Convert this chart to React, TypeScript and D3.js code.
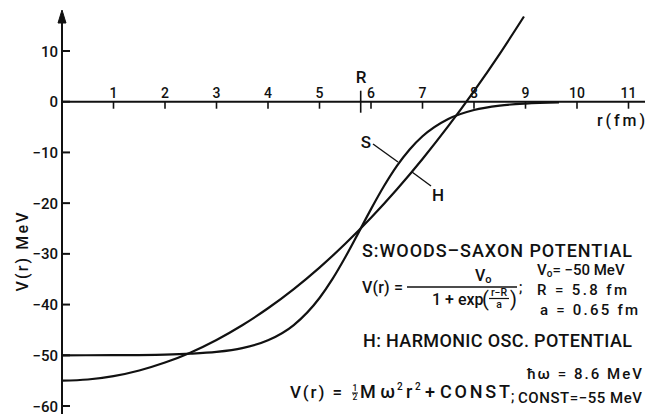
import * as d3 from "d3";

// axis ticks
const xTicks = [1, 2, 3, 4, 5, 6, 7, 8, 9, 10, 11];
const yTicks = [10, 0, -10, -20, -30, -40, -50, -60];
const yTickLabels = ["10", "0", "−10", "−20", "−30", "−40", "−50", "−60"];
const rMark = 5.8;

// S: Woods-Saxon curve (r in fm, V in MeV)
const wsR = [0, 1, 2, 2.5, 3, 3.5, 4, 4.5, 5, 5.25, 5.5, 5.75, 6, 6.25, 6.5, 6.75, 7, 7.5, 8, 8.5, 9, 9.65];
const wsV = [-50, -49.97, -49.86, -49.69, -49.34, -48.59, -47.05, -44.04, -38.7, -34.99, -30.67, -25.96, -21.18, -16.68, -12.7, -9.41, -6.82, -3.41, -1.64, -0.77, -0.36, -0.14];

// H: harmonic oscillator curve
const hoR = [0, 0.5, 1, 1.5, 2, 2.5, 3, 3.5, 4, 4.5, 5, 5.5, 6, 6.5, 7, 7.5, 8, 8.5, 8.97];
const hoV = [-55, -54.78, -54.11, -52.99, -51.43, -49.43, -46.97, -44.07, -40.73, -36.94, -32.7, -28.02, -22.89, -17.31, -11.29, -4.83, 2.09, 9.45, 16.8];

const W = 648, H = 414;
const FONT = "Roboto, 'DejaVu Sans', sans-serif";

export default function App() {
  const x = d3.scaleLinear().domain([0, 11]).range([62, 628.5]);
  const y = d3.scaleLinear().domain([-60, 10]).range([406, 51]);

  const line = d3.line<[number, number]>()
    .x(d => x(d[0]))
    .y(d => y(d[1]))
    .curve(d3.curveMonotoneX);

  const ws = wsR.map((r, i) => [r, wsV[i]] as [number, number]);
  const ho = hoR.map((r, i) => [r, hoV[i]] as [number, number]);

  const x0 = x(0), y0 = y(0);
  const txt = { fontFamily: FONT, fontWeight: 500, fill: "#111" } as const;

  return (
    <svg width={W} height={H} style={{ position: "absolute", left: 0, top: 0, background: "#fff" }}>
      <g stroke="#111" strokeWidth={2} fill="none">
        {/* y axis with arrow */}
        <line x1={x0} x2={x0} y1={20} y2={H} />
        <path d={`M${x0},10 L${x0 - 4},23 L${x0 + 4},23 Z`} fill="#111" strokeWidth={1} />
        {yTicks.map(t => (
          <line key={t} x1={x0} x2={x0 + 8} y1={y(t)} y2={y(t)} />
        ))}
        {/* x axis */}
        <line x1={x0} x2={645} y1={y0} y2={y0} />
        {xTicks.map(t => (
          <line key={t} x1={x(t)} x2={x(t)} y1={y0} y2={y0 + 7} strokeWidth={1.6} />
        ))}
        <line x1={x(rMark)} x2={x(rMark)} y1={y0 - 11} y2={y0 + 11} strokeWidth={1.6} />
        {/* curves */}
        <path d={line(ws) ?? ""} strokeWidth={2.2} />
        <path d={line(ho) ?? ""} strokeWidth={2.2} />
        {/* leader lines */}
        <line x1={373} y1={144} x2={398} y2={162} strokeWidth={1.4} />
        <line x1={412} y1={172} x2={431} y2={186} strokeWidth={1.4} />
      </g>

      {/* tick labels */}
      <g {...txt} fontSize={15}>
        {yTicks.map((t, i) => (
          <text key={t} x={58} y={y(t) + 5.5} textAnchor="end">{yTickLabels[i]}</text>
        ))}
        {xTicks.map(t => (
          <text key={t} x={x(t)} y={y0 - 4} textAnchor="middle" fontSize={14}>{t}</text>
        ))}
        <text x={361} y={83} textAnchor="middle" fontSize={17}>R</text>
        <text x={597} y={126} fontSize={16} textLength={48} lengthAdjust="spacing">r(fm)</text>
        <text x={366} y={148} textAnchor="middle" fontSize={17}>S</text>
        <text x={438} y={201} textAnchor="middle" fontSize={17}>H</text>
        <text transform="translate(28,252) rotate(-90)" textAnchor="middle" fontSize={16}
          textLength={79} lengthAdjust="spacing">V(r) MeV</text>
      </g>

      {/* legend / formulas */}
      <g {...txt}>
        <text x={362} y={257} fontSize={18} textLength={270} lengthAdjust="spacing">S:WOODS–SAXON POTENTIAL</text>

        <text x={362} y={293} fontSize={16} textLength={41} lengthAdjust="spacing">V(r) =</text>
        <text x={475} y={281} fontSize={16}>V<tspan fontSize={11} dy={2}>o</tspan></text>
        <line x1={407} x2={517} y1={287} y2={287} stroke="#111" strokeWidth={1.4} />
        <text x={432} y={305} fontSize={16}>1 + exp</text>
        <text x={482} y={306} fontSize={20} fontWeight={400}>(</text>
        <text x={499} y={296} fontSize={10.5} textAnchor="middle">r−R</text>
        <line x1={489} x2={509} y1={298.5} y2={298.5} stroke="#111" strokeWidth={1.2} />
        <text x={499} y={308} fontSize={10.5} textAnchor="middle">a</text>
        <text x={510} y={306} fontSize={20} fontWeight={400}>)</text>
        <text x={519} y={292} fontSize={14}>;</text>

        <text x={537} y={275} fontSize={15}>V<tspan fontSize={10} dy={2}>o</tspan><tspan dy={-2}>= −50 MeV</tspan></text>
        <text x={537} y={295} fontSize={15} textLength={90} lengthAdjust="spacing">R  =  5.8 fm</text>
        <text x={540} y={315} fontSize={15} textLength={98} lengthAdjust="spacing">a  =  0.65 fm</text>

        <text x={363} y={347} fontSize={18} textLength={269} lengthAdjust="spacing">H: HARMONIC OSC. POTENTIAL</text>

        {/* V(r) = 1/2 M w^2 r^2 + CONST; */}
        <text x={290} y={398} fontSize={17} textLength={52} lengthAdjust="spacing">V(r) =</text>
        <text x={355} y={391} fontSize={8.5} textAnchor="middle">1</text>
        <line x1={352} x2={358} y1={393} y2={393} stroke="#111" strokeWidth={1} />
        <text x={355} y={400} fontSize={8.5} textAnchor="middle">2</text>
        <text x={360} y={398} fontSize={18} textLength={35} lengthAdjust="spacing">Mω</text>
        <text x={397} y={390} fontSize={10}>2</text>
        <text x={406} y={398} fontSize={18}>r</text>
        <text x={415} y={390} fontSize={10}>2</text>
        <text x={425} y={398} fontSize={18}>+</text>
        <text x={440} y={398} fontSize={18} textLength={70} lengthAdjust="spacing">CONST</text>
        <text x={511} y={401} fontSize={14}>;</text>

        <text x={527} y={379} fontSize={15} textLength={115} lengthAdjust="spacing">ħω =  8.6 MeV</text>
        <text x={518} y={403} fontSize={15} textLength={124} lengthAdjust="spacing">CONST=−55 MeV</text>
      </g>
    </svg>
  );
}
